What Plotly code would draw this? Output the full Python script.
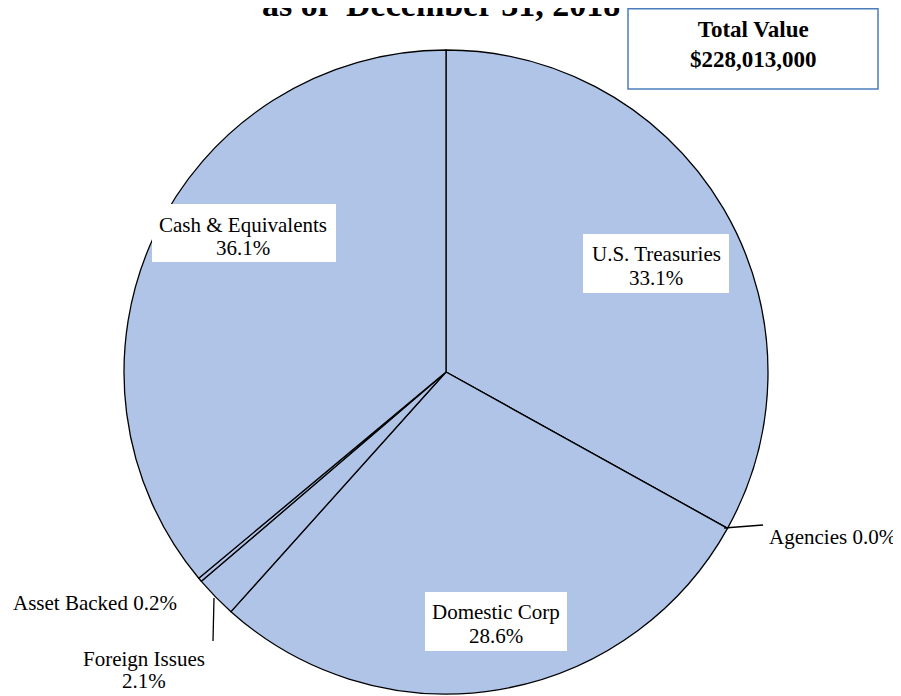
import plotly.graph_objects as go

# ---- data ----
categories = ["U.S. Treasuries", "Agencies", "Domestic Corp", "Foreign Issues",
              "Asset Backed", "Cash & Equivalents"]
percentages = [33.1, 0.0, 28.6, 2.1, 0.2, 36.1]
title_text = "as of  December 31, 2018"
total_label = "Total Value"
total_value = "$228,013,000"

W, H = 901, 696
OFF = 8  # page body margin of the html page
FONT = "Liberation Serif, Times New Roman, serif"


def px(x, y):
    """screen pixel -> paper coords"""
    return (x - OFF) / W, 1 - (y - OFF) / H


# pie geometry (screen pixels)
cx, cy, r = 446, 372, 322

fig = go.Figure()
fig.add_trace(go.Pie(
    labels=categories,
    values=percentages,
    sort=False,
    direction="clockwise",
    rotation=0,
    textinfo="none",
    hoverinfo="label+percent",
    marker=dict(colors=["#B0C4E8"] * len(categories),
                line=dict(color="#000000", width=1.3)),
    domain=dict(x=[(cx - OFF - r) / W, (cx - OFF + r) / W],
                y=[(H - (cy - OFF) - r) / H, (H - (cy - OFF) + r) / H]),
    showlegend=False,
))

annotations = []
shapes = []


def fmt(p):
    return f"{p:.1f}%"


# label layout (screen pixels): line middles, optional white box
label_specs = {
    "U.S. Treasuries": dict(x=656, lines_y=(254, 277.5), box=(583, 234, 729, 293), anchor="center"),
    "Agencies": dict(x=767, lines_y=(536.5,), box=None, anchor="left"),
    "Domestic Corp": dict(x=496, lines_y=(612, 635.5), box=(425, 592, 567, 651), anchor="center"),
    "Foreign Issues": dict(x=144, lines_y=(658.5, 680.5), box=None, anchor="center"),
    "Asset Backed": dict(x=11, lines_y=(602.5,), box=None, anchor="left"),
    "Cash & Equivalents": dict(x=243, lines_y=(224.5, 248), box=(152, 204, 336, 262), anchor="center"),
}

for cat, val in zip(categories, percentages):
    spec = label_specs[cat]
    if len(spec["lines_y"]) == 2:
        texts = [cat, fmt(val)]
    else:
        texts = [f"{cat} {fmt(val)}"]
    if spec["box"]:
        a, b, c, d = spec["box"]
        p0 = px(a, b)
        p1 = px(c, d)
        shapes.append(dict(type="rect", xref="paper", yref="paper", layer="above",
                           x0=p0[0], y0=p1[1], x1=p1[0], y1=p0[1],
                           line=dict(width=0), fillcolor="#FFFFFF"))
    for t, ly in zip(texts, spec["lines_y"]):
        x, y = px(spec["x"], ly)
        annotations.append(dict(
            x=x, y=y, xref="paper", yref="paper",
            xanchor=spec["anchor"], yanchor="middle",
            text=t, showarrow=False,
            font=dict(family=FONT, size=21, color="#000000"),
        ))

# title (upper line is cut off in the reference)
tx, ty = px(441, 25)
annotations.append(dict(
    x=tx, y=ty, xref="paper", yref="paper", xanchor="center", yanchor="bottom",
    text=f"<b>{title_text}</b>", showarrow=False,
    font=dict(family=FONT, size=34, color="#000000"),
))

# total value box
x0, y0 = px(628, 8.8)
x1, y1 = px(878, 89)
shapes.append(dict(type="rect", xref="paper", yref="paper",
                   x0=x0, y0=y1, x1=x1, y1=y0,
                   line=dict(color="#4A7EBB", width=1.5), fillcolor="#FFFFFF"))
bx, by = px(753, 45)
annotations.append(dict(
    x=bx, y=by, xref="paper", yref="paper", xanchor="center", yanchor="middle",
    text=f"<b>{total_label}<br>{total_value}</b>", showarrow=False,
    font=dict(family=FONT, size=23, color="#000000"),
))

# leader lines
for (a, b), (c, d) in [((724, 528), (763, 525)), ((214, 598), (213, 641))]:
    p0 = px(a, b)
    p1 = px(c, d)
    shapes.append(dict(type="line", xref="paper", yref="paper",
                       x0=p0[0], y0=p0[1], x1=p1[0], y1=p1[1],
                       line=dict(color="#000000", width=1.3)))

fig.update_layout(
    width=W, height=H,
    margin=dict(l=0, r=0, t=0, b=0),
    paper_bgcolor="#FFFFFF",
    plot_bgcolor="#FFFFFF",
    annotations=annotations,
    shapes=shapes,
)

fig.write_html("out.html")
